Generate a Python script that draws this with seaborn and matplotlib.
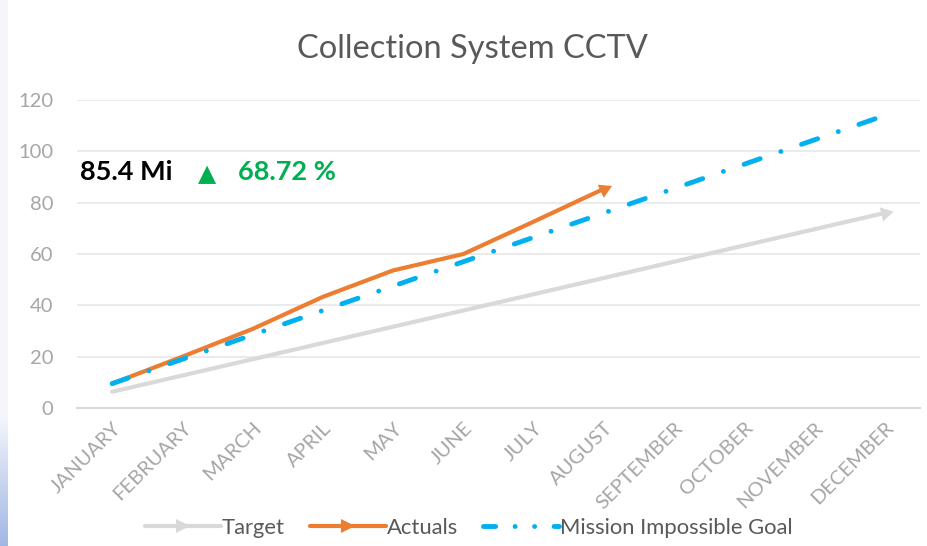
import numpy as np
import pandas as pd
import matplotlib
matplotlib.use("Agg")
import matplotlib.pyplot as plt
import seaborn as sns
from matplotlib.legend_handler import HandlerLine2D
from matplotlib.lines import Line2D

meses = ["JANUARY", "FEBRUARY", "MARCH", "APRIL", "MAY", "JUNE", "JULY",
         "AUGUST", "SEPTEMBER", "OCTOBER", "NOVEMBER", "DECEMBER"]
target = [6.33, 12.67, 19.0, 25.33, 31.67, 38.0, 44.33, 50.67, 57.0, 63.33, 69.67, 76.0]
actuals = [9.5, 20.0, 30.8, 43.3, 53.6, 60.0, 72.6, 85.4]
goal = [9.5, 19.0, 28.5, 38.0, 47.5, 57.0, 66.5, 76.0, 85.5, 95.0, 104.5, 114.0]
yticks = [0, 20, 40, 60, 80, 100, 120]

df = pd.DataFrame({"mes": meses, "Target": target, "Mission Impossible Goal": goal})
df["Actuals"] = actuals + [np.nan] * (len(meses) - len(actuals))
df["x"] = range(len(meses))

sns.set_style("white")
plt.rcParams["font.family"] = ["Lato", "DejaVu Sans"]

fig = plt.figure(figsize=(9.28, 5.46), dpi=100)

# franja azul de la diapositiva a la izquierda
fondo = fig.add_axes([0, 0, 8 / 928, 1])
grad = np.ones((546, 1, 3)) * np.array([244, 246, 251]) / 255
for i in range(415, 546):
    t = (i - 415) / 131
    grad[i, 0] = (np.array([244, 246, 251]) * (1 - t) + np.array([160, 182, 228]) * t) / 255
fondo.imshow(grad, aspect="auto", extent=[0, 1, 0, 1])
fondo.axis("off")
tope = fig.add_axes([0, 541 / 546, 1, 5 / 546])
tope.set_facecolor("#f4f6fa")
tope.axis("off")
tope.patch.set_visible(True)

ax = fig.add_axes([77 / 928, 1 - 408 / 546, 843 / 928, 308 / 546])

sns.lineplot(data=df, x="x", y="Target", ax=ax, color="#d9d9d9", lw=3,
             marker=(3, 0, -77), markevery=[-1], markersize=12,
             markeredgewidth=0, label="Target")
sns.lineplot(data=df.dropna(), x="x", y="Actuals", ax=ax, color="#ed7d31", lw=3,
             marker=(3, 0, -65), markevery=[-1], markersize=12,
             markeredgewidth=0, label="Actuals")
sns.lineplot(data=df, x="x", y="Mission Impossible Goal", ax=ax, color="#00b0f0",
             lw=3.5, label="Mission Impossible Goal")
linea = ax.get_lines()[-1]
linea.set_dashes((3.5, 4.5, 0.01, 4.5))
linea.set_dash_capstyle("round")

ax.set_xlim(-0.5, 11.5)
ax.set_ylim(0, 120)
ax.set_yticks(yticks)
ax.set_xticks(df["x"])
ax.set_xticklabels(meses, rotation=45, ha="right", va="top",
                   rotation_mode="anchor", color="#a6a6a6", fontsize=14.5)
ax.tick_params(axis="y", colors="#a6a6a6", labelsize=14.5, length=0, pad=17)
ax.tick_params(axis="x", length=0, pad=8)
ax.set_xlabel("")
ax.set_ylabel("")
ax.grid(axis="y", color="#ebebeb", lw=1.5)
ax.set_axisbelow(True)
for s in ["top", "right", "left"]:
    ax.spines[s].set_visible(False)
ax.spines["bottom"].set_color("#d9d9d9")
ax.spines["bottom"].set_linewidth(1.5)


class FlechaFinal(HandlerLine2D):
    def get_xdata(self, legend, xdescent, ydescent, width, height, fontsize):
        xdata, _ = super().get_xdata(legend, xdescent, ydescent, width, height, fontsize)
        return xdata, np.array([xdata[-1]])

    def create_artists(self, *args, **kwargs):
        arts = super().create_artists(*args, **kwargs)
        if arts[-1].get_marker() not in ("None", None, ""):
            arts[-1].set_marker(">")
            arts[-1].set_markersize(10)
        else:
            # en la leyenda: raya y dos puntos
            arts[0].set_dashes((2.5, 4.0, 0.01, 4.0, 0.01, 4.0))
        return arts


handles, labels = ax.get_legend_handles_labels()
ax.get_legend().remove()
fig.legend(handles, labels, loc="center", bbox_to_anchor=(469 / 928, 1 - 528 / 546),
           ncol=3, frameon=False, fontsize=15.8, labelcolor="#595959",
           handlelength=3.45, handletextpad=0.05, columnspacing=1.15,
           handler_map={Line2D: FlechaFinal()})

fig.suptitle("Collection System CCTV", x=472 / 928, y=0.937, fontsize=23.5, color="#595959")

fig.text(80 / 928, 1 - 172 / 546, "85.4 Mi", fontsize=19.5, fontweight="bold",
         color="black", va="center")
fig.text(207 / 928, 1 - 174 / 546, "▲", fontsize=17, color="#00b050",
         va="center", ha="center", family="DejaVu Sans")
fig.text(238 / 928, 1 - 172 / 546, "68.72 %", fontsize=19.5, fontweight="bold",
         color="#00b050", va="center")

fig.savefig("out.png", dpi=100)
